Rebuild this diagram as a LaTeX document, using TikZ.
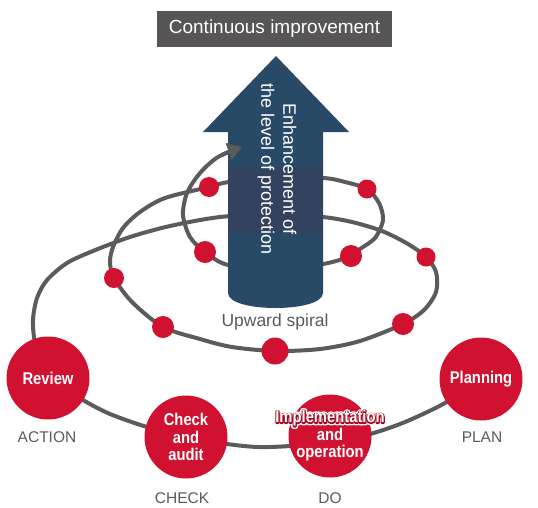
\documentclass[tikz,border=0pt]{standalone}
\usepackage{fontspec}
\setmainfont{Liberation Sans}
\newfontfamily\condfont{Liberation Sans}[FakeStretch=0.87]
\usetikzlibrary{arrows.meta}
\definecolor{pdcared}{HTML}{D0112F}
\definecolor{linegray}{HTML}{5B5B5B}
\definecolor{arrowblue}{HTML}{294A67}
\definecolor{bandblue}{HTML}{33435F}
\definecolor{titlegray}{HTML}{575555}
\definecolor{labelgray}{HTML}{5A5A5A}
\definecolor{darkred}{HTML}{A50A22}
\newcommand\strokedtext[3]{\rlap{\color{#1}\special{pdf:literal direct 1 j 2 Tr #2 w}#3\special{pdf:literal direct 0 Tr}}}
\newcommand\halotext[1]{%
\strokedtext{white}{5}{#1}%
\strokedtext{darkred}{2.2}{#1}%
\hbox{\color{white}#1}}
\tikzset{
  spiral/.style={draw=linegray, line width=4pt, -{Triangle[length=14pt,width=17pt]}},
  dot/.style={circle, fill=pdcared, inner sep=0pt},
  pdca/.style={circle, fill=pdcared, minimum size=83pt, inner sep=0pt},
  pdcatext/.style={text=white, align=center, inner sep=0pt,
    font=\condfont\bfseries\fontsize{17}{17.5}\selectfont},
  phase/.style={text=labelgray, inner sep=0pt, font=\fontsize{15.5}{17}\selectfont},
}
\begin{document}
\begin{tikzpicture}[x=1pt,y=-1pt]
\useasboundingbox (0,0) rectangle (538,507);
% spiral
\draw[spiral] plot[smooth] coordinates {(481,379) (445,403) (405,422) (370,434) (330,442) (290,446) (258,447) (227,444) (186,437) (147,427) (110,414) (83,400) (60,384) (44,364) (35,342) (33,320) (37,298) (47,280) (67,263) (93,251) (130,237) (170,226) (220,217) (276,214) (323,217) (352,222) (382,231) (408,244) (426,257) (436,272) (436,292) (424,310) (403,324) (360,341) (320,349) (275,351) (232,347) (200,339) (163,327) (132,302) (114,278) (110,262) (113,247) (123,228) (140,212) (165,198) (209,187) (229,182) (276,179) (323,178) (345,182) (367,189) (379,203) (383,220) (375,238) (360,249) (351,256) (323,264) (276,268) (228,265) (205,252) (190,237) (183,215) (187,193) (200,173) (218,157) (242,147)};
% big arrow
\fill[arrowblue] (228,293) -- (228,132) -- (203,132) -- (276,56) -- (349,132) -- (323,132) -- (323,293) .. controls (323,313) and (228,313) .. (228,293) -- cycle;
\fill[bandblue] (228,167) rectangle (323,233);
\node[rotate=-90, text=white, align=center, inner sep=0pt, font=\fontsize{18}{22}\selectfont] (enh) at (277,169) {Enhancement of\\the level of protection};
% spiral tip in front of the arrow
\begin{scope}
\clip (222,132) rectangle (262,168);
\draw[spiral] plot[smooth] coordinates {(481,379) (445,403) (405,422) (370,434) (330,442) (290,446) (258,447) (227,444) (186,437) (147,427) (110,414) (83,400) (60,384) (44,364) (35,342) (33,320) (37,298) (47,280) (67,263) (93,251) (130,237) (170,226) (220,217) (276,214) (323,217) (352,222) (382,231) (408,244) (426,257) (436,272) (436,292) (424,310) (403,324) (360,341) (320,349) (275,351) (232,347) (200,339) (163,327) (132,302) (114,278) (110,262) (113,247) (123,228) (140,212) (165,198) (209,187) (229,182) (276,179) (323,178) (345,182) (367,189) (379,203) (383,220) (375,238) (360,249) (351,256) (323,264) (276,268) (228,265) (205,252) (190,237) (183,215) (187,193) (200,173) (218,157) (242,147)};
\end{scope}
% dots
\node[dot, minimum size=20pt] (d1) at (209,187) {};
\node[dot, minimum size=19pt] (d2) at (367,189) {};
\node[dot, minimum size=22pt] (d3) at (205,252) {};
\node[dot, minimum size=22pt] (d4) at (351,256) {};
\node[dot, minimum size=20pt] (d5) at (114,278) {};
\node[dot, minimum size=19pt] (d6) at (426,257) {};
\node[dot, minimum size=22pt] (d7) at (163,327) {};
\node[dot, minimum size=22pt] (d8) at (403,324) {};
\node[dot, minimum size=27pt] (d9) at (275,351) {};
% PDCA circles
\node[pdca, label={[pdcatext, name=reviewt]center:Review}] (review) at (48,378) {};
\node[pdca, label={[pdcatext, name=checkt]center:Check\\and\\audit}] (check) at (186,437) {};
\node[pdca, label={[pdcatext, name=implt]center:\halotext{Implementation}\\and\\operation}] (impl) at (330,436) {};
\node[pdca, label={[pdcatext, name=plant]center:Planning}] (plan) at (481,379) {};
% phase labels
\node[phase] (action) at (47,437) {ACTION};
\node[phase] (checkl) at (182,498) {CHECK};
\node[phase] (dol) at (330,498) {DO};
\node[phase] (planl) at (482,437) {PLAN};
% title
\node[fill=titlegray, text=white, minimum width=235pt, minimum height=36pt, inner sep=0pt, font=\fontsize{19}{21}\selectfont] (title) at (274.5,29) {Continuous improvement};
\node[text=labelgray, inner sep=0pt, font=\fontsize{17.5}{19}\selectfont] (upward) at (275,322) {Upward spiral};
\end{tikzpicture}
\end{document}
